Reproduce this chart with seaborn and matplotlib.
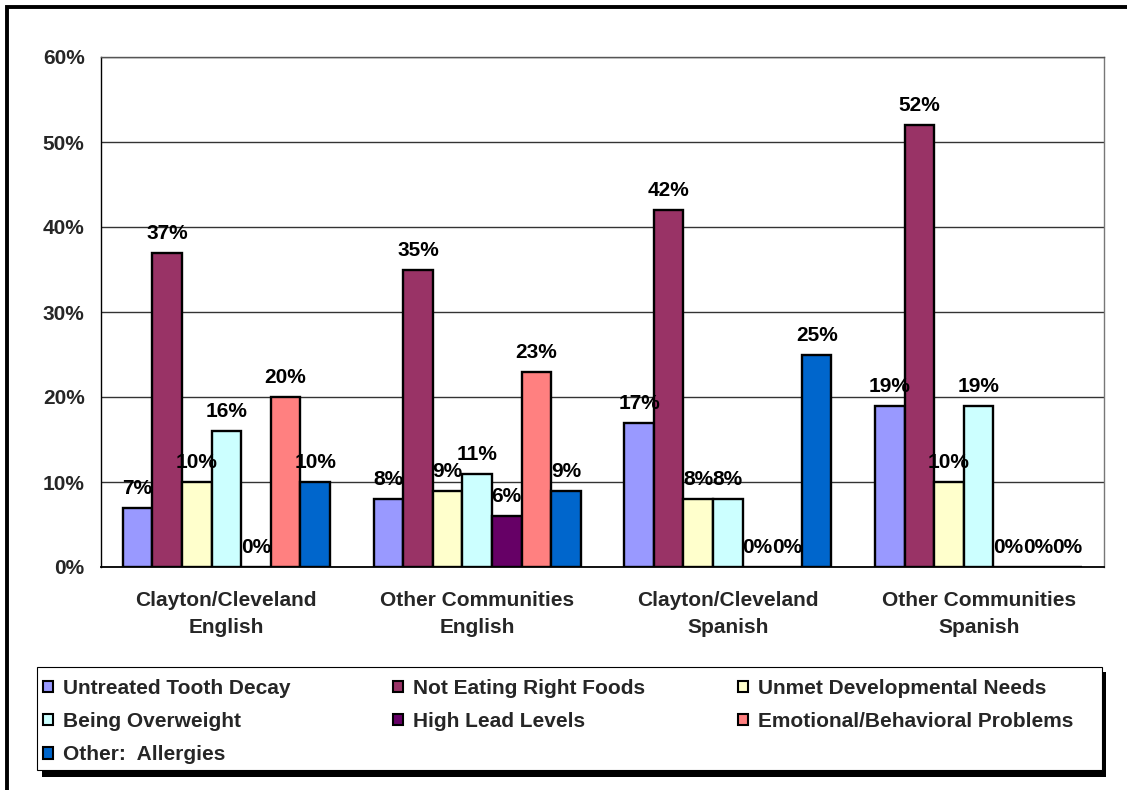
import matplotlib
matplotlib.use("Agg")
import matplotlib.pyplot as plt
from matplotlib.patches import Rectangle, Patch
from matplotlib.ticker import FuncFormatter
import pandas as pd
import seaborn as sns

# Communities (x categories) and health concerns (hue series)
communities = [
    "Clayton/Cleveland\nEnglish",
    "Other Communities\nEnglish",
    "Clayton/Cleveland\nSpanish",
    "Other Communities\nSpanish",
]
concerns = [
    "Untreated Tooth Decay",
    "Not Eating Right Foods",
    "Unmet Developmental Needs",
    "Being Overweight",
    "High Lead Levels",
    "Emotional/Behavioral Problems",
    "Other:  Allergies",
]

# Percent of respondents per concern, one value per community
untreated_tooth_decay = [7, 8, 17, 19]
not_eating_right_foods = [37, 35, 42, 52]
unmet_developmental_needs = [10, 9, 8, 10]
being_overweight = [16, 11, 8, 19]
high_lead_levels = [0, 6, 0, 0]
emotional_behavioral = [20, 23, 0, 0]
other_allergies = [10, 9, 25, 0]

y_ticks = [0, 10, 20, 30, 40, 50, 60]

colors = ["#9999FF", "#993366", "#FFFFCC", "#CCFFFF", "#660066", "#FF8080", "#0066CC"]

series = [
    untreated_tooth_decay,
    not_eating_right_foods,
    unmet_developmental_needs,
    being_overweight,
    high_lead_levels,
    emotional_behavioral,
    other_allergies,
]
rows = []
for concern, vals in zip(concerns, series):
    for comm, v in zip(communities, vals):
        rows.append({"community": comm, "concern": concern, "pct": v})
df = pd.DataFrame(rows)

sns.set_theme(style="white")
plt.rcParams["font.family"] = ["Liberation Sans", "DejaVu Sans"]
plt.rcParams["font.weight"] = "bold"

W, H = 1127, 790
fig = plt.figure(figsize=(W / 100, H / 100), dpi=100)
fig.patch.set_facecolor("white")


def fx(px):
    return px / W


def fy(py):
    return 1 - py / H


ax = fig.add_axes([fx(101), fy(567), fx(1104) - fx(101), fy(57) - fy(567)])

sns.barplot(
    data=df, x="community", y="pct", hue="concern",
    order=communities, hue_order=concerns, palette=colors,
    width=0.826, edgecolor="black", linewidth=1.7, saturation=1,
    errorbar=None, legend=False, ax=ax,
)

# value labels above each bar
for cont in ax.containers:
    ax.bar_label(
        cont, labels=[f"{v:g}%" for v in cont.datavalues],
        padding=7, fontsize=15, fontweight="bold", color="black",
    )

ax.set_ylim(0, 60)
ax.set_xlim(-0.5, 3.5)
ax.set_yticks(y_ticks)
ax.yaxis.set_major_formatter(FuncFormatter(lambda v, _: f"{v:g}%"))
ax.set_xlabel("")
ax.set_ylabel("")
ax.set_axisbelow(True)
ax.yaxis.grid(True, color="#333333", linewidth=1.0)
ax.xaxis.grid(False)

ax.tick_params(axis="y", which="major", direction="out", length=4.3, width=1,
               color="#333333", pad=7.5, labelsize=15)
ax.tick_params(axis="x", length=0, pad=17, labelsize=15)
for lbl in ax.get_xticklabels() + ax.get_yticklabels():
    lbl.set_fontweight("bold")
for lbl in ax.get_xticklabels():
    lbl.set_linespacing(1.55)

for side, col, lw in [("left", "black", 1.0), ("bottom", "black", 1.3),
                      ("top", "#555555", 1.0), ("right", "#777777", 1.0)]:
    ax.spines[side].set_visible(True)
    ax.spines[side].set_color(col)
    ax.spines[side].set_linewidth(lw)

# outer frame of the figure
fig.add_artist(Rectangle((fx(7), -0.2), 1.5, fy(7) + 0.2, transform=fig.transFigure,
                         fill=False, edgecolor="black", linewidth=2.8))

# legend box with solid shadow
fig.add_artist(Rectangle((fx(42), fy(777)), fx(1106) - fx(42), fy(672) - fy(777),
                         transform=fig.transFigure, facecolor="black",
                         edgecolor="black", linewidth=0))
fig.add_artist(Rectangle((fx(37), fy(770)), fx(1102) - fx(37), fy(667) - fy(770),
                         transform=fig.transFigure, facecolor="white",
                         edgecolor="black", linewidth=0.8))

handles = [Patch(facecolor=c, edgecolor="black", linewidth=1.5) for c in colors]
columns = [[0, 3, 6], [1, 4], [2, 5]]
col_x = [43, 393, 738]
for idx, x0 in zip(columns, col_x):
    leg = fig.legend(
        [handles[i] for i in idx], [concerns[i] for i in idx],
        loc="upper left", bbox_to_anchor=(fx(x0), fy(679)),
        bbox_transform=fig.transFigure, frameon=False,
        borderpad=0, borderaxespad=0, handlelength=0.48, handleheight=0.45,
        handletextpad=0.48, labelspacing=0.68,
        prop={"size": 15, "weight": "bold"},
    )

fig.savefig("out.png", dpi=100, facecolor="white")
